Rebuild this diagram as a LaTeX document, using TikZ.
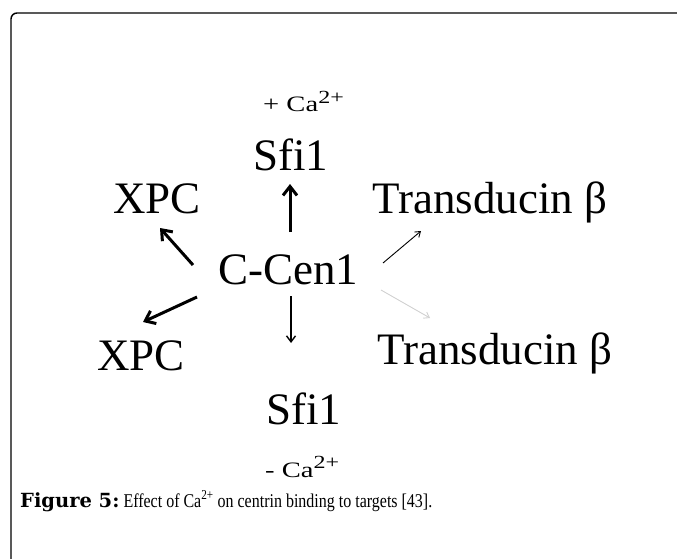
\documentclass[tikz,border=0pt]{standalone}
\usepackage{fontspec}
\usepackage{graphicx}
\setmainfont{Liberation Serif}
\newfontfamily\capbold{DejaVu Serif}[BoldFont={DejaVu Serif Bold}]
\usetikzlibrary{arrows.meta}
\newcommand{\ionsup}[1]{\raisebox{0.38em}{\fontsize{18.5}{20}\selectfont #1}}
\begin{document}
\begin{tikzpicture}[x=1pt,y=-1pt,
  lbl/.style={anchor=base west,inner sep=0pt,font=\fontsize{45}{50}\selectfont},
  ion/.style={anchor=base west,inner sep=0pt,font=\fontsize{22}{24}\selectfont},
  captext/.style={anchor=base west,inner sep=0pt,font=\fontsize{19.5}{23}\selectfont},
  thickarr/.style={-{Straight Barb[length=9pt,width=14pt]},line width=3pt},
  midarr/.style={-{Straight Barb[length=6pt,width=9pt]},line width=1.4pt},
  thinarr/.style={-{Straight Barb[length=5pt,width=7pt]},line width=0.9pt},
  frameline/.style={line width=1.4pt,rounded corners=6pt}
]
\useasboundingbox (0,0) rectangle (677,559);
\draw[frameline] (11,580) -- (11,13) -- (700,13);

\node[ion] (caup) at (263,112) {\scalebox{1.3}[1]{+ Ca\ionsup{2+}}};
\node[lbl] (sfiup) at (253,170) {Sfi1};
\node[lbl] (xpcup) at (113,213) {XPC};
\node[lbl] (trup) at (372,213) {Transducin β};
\node[lbl] (ccen) at (218,284) {C-Cen1};
\node[lbl] (xpclo) at (97,370) {XPC};
\node[lbl] (trlo) at (377,364) {Transducin β};
\node[lbl] (sfilo) at (266,424) {Sfi1};
\node[ion] (calo) at (265,477) {\scalebox{1.3}[1]{- Ca\ionsup{2+}}};
\node[captext] (caption) at (20,507) {{\capbold\bfseries\fontsize{19.5}{23}\selectfont Figure 5:}\hspace{4pt}\scalebox{0.82}[1]{Effect of Ca\textsuperscript{2+} on centrin binding to targets [43].}};

\coordinate (aU1) at (290,232); \coordinate (aU2) at (290,184);
\coordinate (aUL1) at (193,265); \coordinate (aUL2) at (160,228);
\coordinate (aLL1) at (197,297); \coordinate (aLL2) at (143,322);
\coordinate (aD1) at (291,296); \coordinate (aD2) at (291,343);
\coordinate (aUR1) at (383,263); \coordinate (aUR2) at (421,231);
\coordinate (aG1) at (381,290); \coordinate (aG2) at (430,318);

\draw[thickarr] (aU1) -- (aU2);
\draw[thickarr] (aUL1) -- (aUL2);
\draw[thickarr] (aLL1) -- (aLL2);
\draw[midarr] (aD1) -- (aD2);
\draw[thinarr] (aUR1) -- (aUR2);
\draw[thinarr,black!18] (aG1) -- (aG2);
\end{tikzpicture}
\end{document}
